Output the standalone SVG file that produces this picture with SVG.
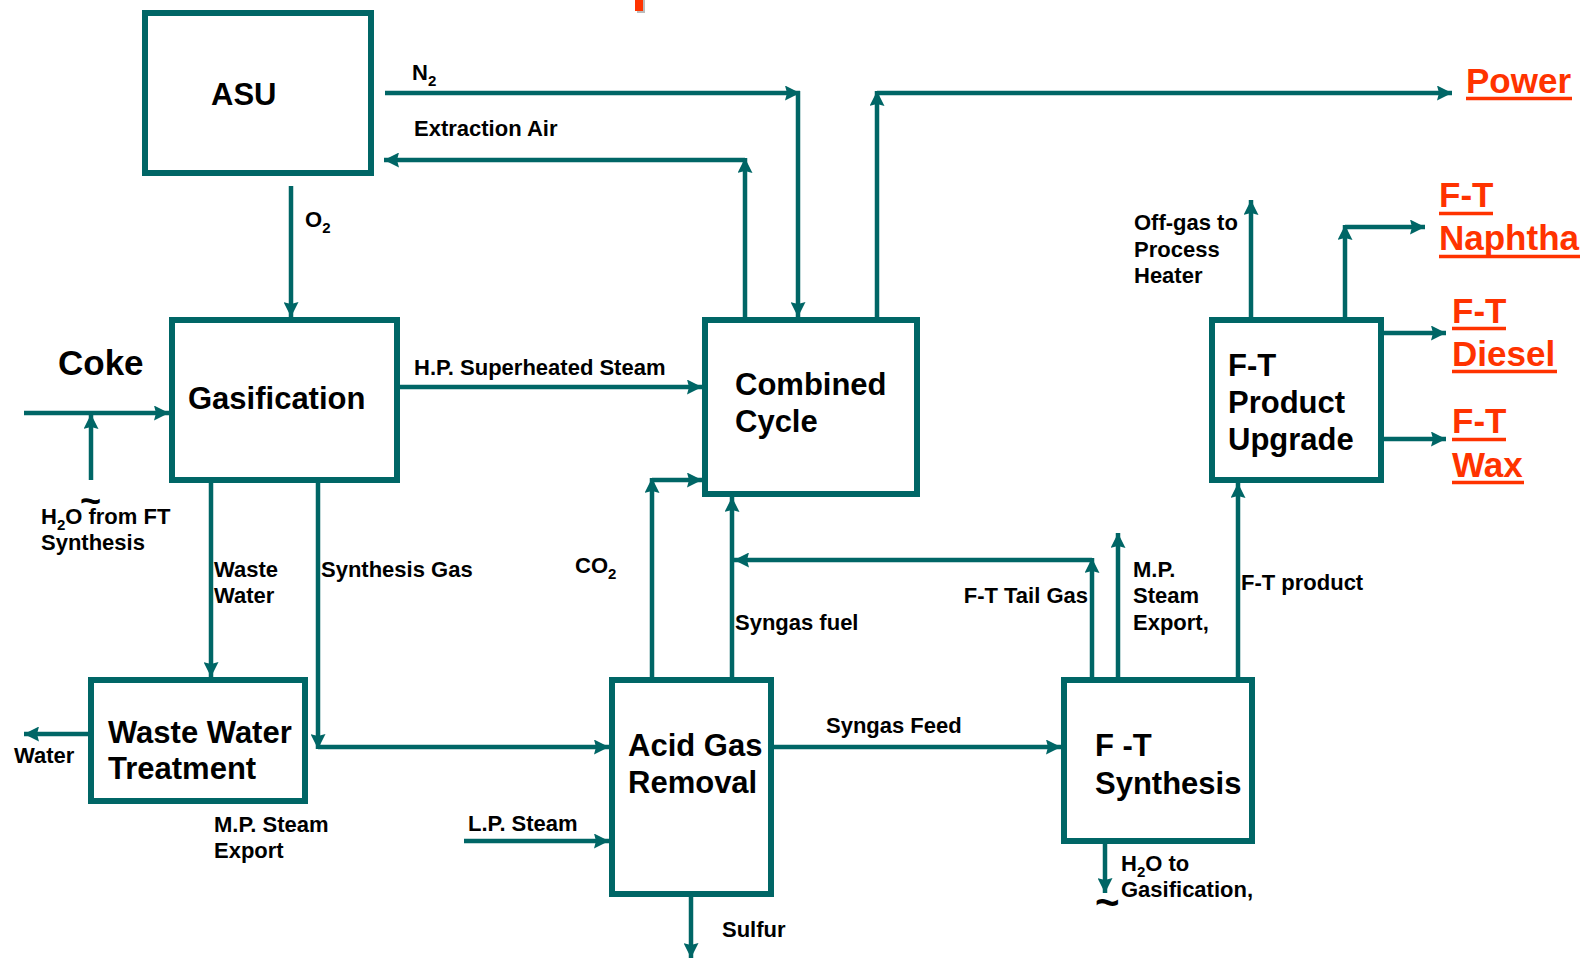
<svg xmlns="http://www.w3.org/2000/svg" width="1585" height="960" viewBox="0 0 1585 960">
<style>
.box{fill:#fff;stroke:#006666;stroke-width:6}
.ln{fill:none;stroke:#006666;stroke-width:4.5;marker-end:url(#ah)}
.nt{font-family:"Liberation Sans",Arial,sans-serif;font-weight:bold;font-size:31px;fill:#000}
.lb{font-family:"Liberation Sans",Arial,sans-serif;font-weight:bold;font-size:22px;fill:#000}
.sub{font-size:15px}
.rd{font-family:"Liberation Sans",Arial,sans-serif;font-weight:bold;font-size:35px;fill:#FF3300}
.ul{stroke:#FF3300;stroke-width:3.5}
.tl{font-family:"Liberation Sans",Arial,sans-serif;font-weight:bold;font-size:42px;fill:#000}
</style>
<defs>
<marker id="ah" viewBox="0 0 15 15" refX="15" refY="7.5" markerWidth="15" markerHeight="15" orient="auto" markerUnits="userSpaceOnUse">
<path d="M0,0 L15,7.5 L0,15 L2,7.5 z" fill="#006666"/>
</marker>
</defs>
<rect x="637" y="0" width="8" height="13" fill="#bbbbbb"/>
<rect x="635" y="0" width="8" height="11" fill="#FF3300"/>

<g id="connectors">
<path class="ln" d="M385,93 H800"/>
<path class="ln" d="M798,91 V317"/>
<path class="ln" d="M745,317 V158"/>
<path class="ln" d="M745,160 H384"/>
<path class="ln" d="M291,186 V317"/>
<path class="ln" d="M877,317 V91"/>
<path class="ln" d="M877,93 H1452"/>
<path class="ln" d="M24,413 H169"/>
<path class="ln" d="M91,480 V414"/>
<path class="ln" d="M400,387 H702"/>
<path class="ln" d="M211,483 V677"/>
<path class="ln" d="M318,483 V749"/>
<path class="ln" d="M318,747 H609"/>
<path class="ln" d="M652,677 V478"/>
<path class="ln" d="M652,480 H702"/>
<path class="ln" d="M732,677 V497"/>
<path class="ln" d="M1092,677 V558"/>
<path class="ln" d="M1092,560 H734"/>
<path class="ln" d="M1118,677 V533"/>
<path class="ln" d="M1238,677 V483"/>
<path class="ln" d="M1251,317 V200"/>
<path class="ln" d="M1345,317 V225"/>
<path class="ln" d="M1345,227 H1425"/>
<path class="ln" d="M1384,333 H1446"/>
<path class="ln" d="M1384,439 H1446"/>
<path class="ln" d="M774,747 H1061"/>
<path class="ln" d="M88,734 H24"/>
<path class="ln" d="M464,841 H609"/>
<path class="ln" d="M691,897 V958"/>
<path class="ln" d="M1105,844 V893"/>
</g>

<g id="asu">
<rect class="box" x="145" y="13" width="226" height="160"/>
<text class="nt" x="211" y="105">ASU</text>
</g>
<g id="gasification">
<rect class="box" x="172" y="320" width="225" height="160"/>
<text class="nt" x="188" y="409">Gasification</text>
</g>
<g id="combined-cycle">
<rect class="box" x="705" y="320" width="212" height="174"/>
<text class="nt" x="735" y="395">Combined</text>
<text class="nt" x="735" y="432">Cycle</text>
</g>
<g id="ft-product-upgrade">
<rect class="box" x="1212" y="320" width="169" height="160"/>
<text class="nt" x="1228" y="376">F-T</text>
<text class="nt" x="1228" y="413">Product</text>
<text class="nt" x="1228" y="450">Upgrade</text>
</g>
<g id="waste-water-treatment">
<rect class="box" x="91" y="680" width="214" height="121"/>
<text class="nt" x="108" y="743">Waste Water</text>
<text class="nt" x="108" y="779">Treatment</text>
</g>
<g id="acid-gas-removal">
<rect class="box" x="612" y="680" width="159" height="214"/>
<text class="nt" x="628" y="756">Acid Gas</text>
<text class="nt" x="628" y="793">Removal</text>
</g>
<g id="ft-synthesis">
<rect class="box" x="1064" y="680" width="188" height="161"/>
<text class="nt" x="1095" y="756">F -T</text>
<text class="nt" x="1095" y="794">Synthesis</text>
</g>

<g id="labels">
<text class="lb" x="412" y="80">N<tspan class="sub" dy="6">2</tspan></text>
<text class="lb" x="414" y="136">Extraction Air</text>
<text class="lb" x="305" y="227">O<tspan class="sub" dy="6">2</tspan></text>
<text class="lb" x="414" y="375">H.P. Superheated Steam</text>
<text class="nt" x="58" y="375" style="font-size:35px">Coke</text>
<text class="lb" x="41" y="524">H<tspan class="sub" dy="6">2</tspan><tspan dy="-6">O from FT</tspan></text>
<text class="lb" x="41" y="550">Synthesis</text>
<text class="tl" x="80" y="513" style="font-size:36px">~</text>
<text class="lb" x="214" y="577">Waste</text>
<text class="lb" x="214" y="603">Water</text>
<text class="lb" x="321" y="577">Synthesis Gas</text>
<text class="lb" x="575" y="573">CO<tspan class="sub" dy="6">2</tspan></text>
<text class="lb" x="735" y="630">Syngas fuel</text>
<text class="lb" x="1088" y="603" text-anchor="end">F-T Tail Gas</text>
<text class="lb" x="1133" y="577">M.P.</text>
<text class="lb" x="1133" y="603">Steam</text>
<text class="lb" x="1133" y="630">Export,</text>
<text class="lb" x="1241" y="590">F-T product</text>
<text class="lb" x="1134" y="230">Off-gas to</text>
<text class="lb" x="1134" y="257">Process</text>
<text class="lb" x="1134" y="283">Heater</text>
<text class="lb" x="826" y="733">Syngas Feed</text>
<text class="lb" x="14" y="763">Water</text>
<text class="lb" x="214" y="832">M.P. Steam</text>
<text class="lb" x="214" y="858">Export</text>
<text class="lb" x="468" y="831">L.P. Steam</text>
<text class="lb" x="722" y="937">Sulfur</text>
<text class="lb" x="1121" y="871">H<tspan class="sub" dy="6">2</tspan><tspan dy="-6">O to</tspan></text>
<text class="lb" x="1121" y="897">Gasification,</text>
<text class="tl" x="1095" y="917">~</text>
</g>

<g id="outputs">
<text class="rd" x="1466" y="93">Power</text>
<line class="ul" x1="1466" y1="98.5" x2="1572" y2="98.5"/>
<text class="rd" x="1439" y="207">F-T</text>
<line class="ul" x1="1439" y1="213.5" x2="1493" y2="213.5"/>
<text class="rd" x="1439" y="250">Naphtha</text>
<line class="ul" x1="1439" y1="256.5" x2="1580" y2="256.5"/>
<text class="rd" x="1452" y="323">F-T</text>
<line class="ul" x1="1452" y1="328.5" x2="1506" y2="328.5"/>
<text class="rd" x="1452" y="366">Diesel</text>
<line class="ul" x1="1452" y1="371.5" x2="1557" y2="371.5"/>
<text class="rd" x="1452" y="433">F-T</text>
<line class="ul" x1="1452" y1="439.5" x2="1506" y2="439.5"/>
<text class="rd" x="1452" y="477">Wax</text>
<line class="ul" x1="1452" y1="482.5" x2="1524" y2="482.5"/>
</g>
</svg>
